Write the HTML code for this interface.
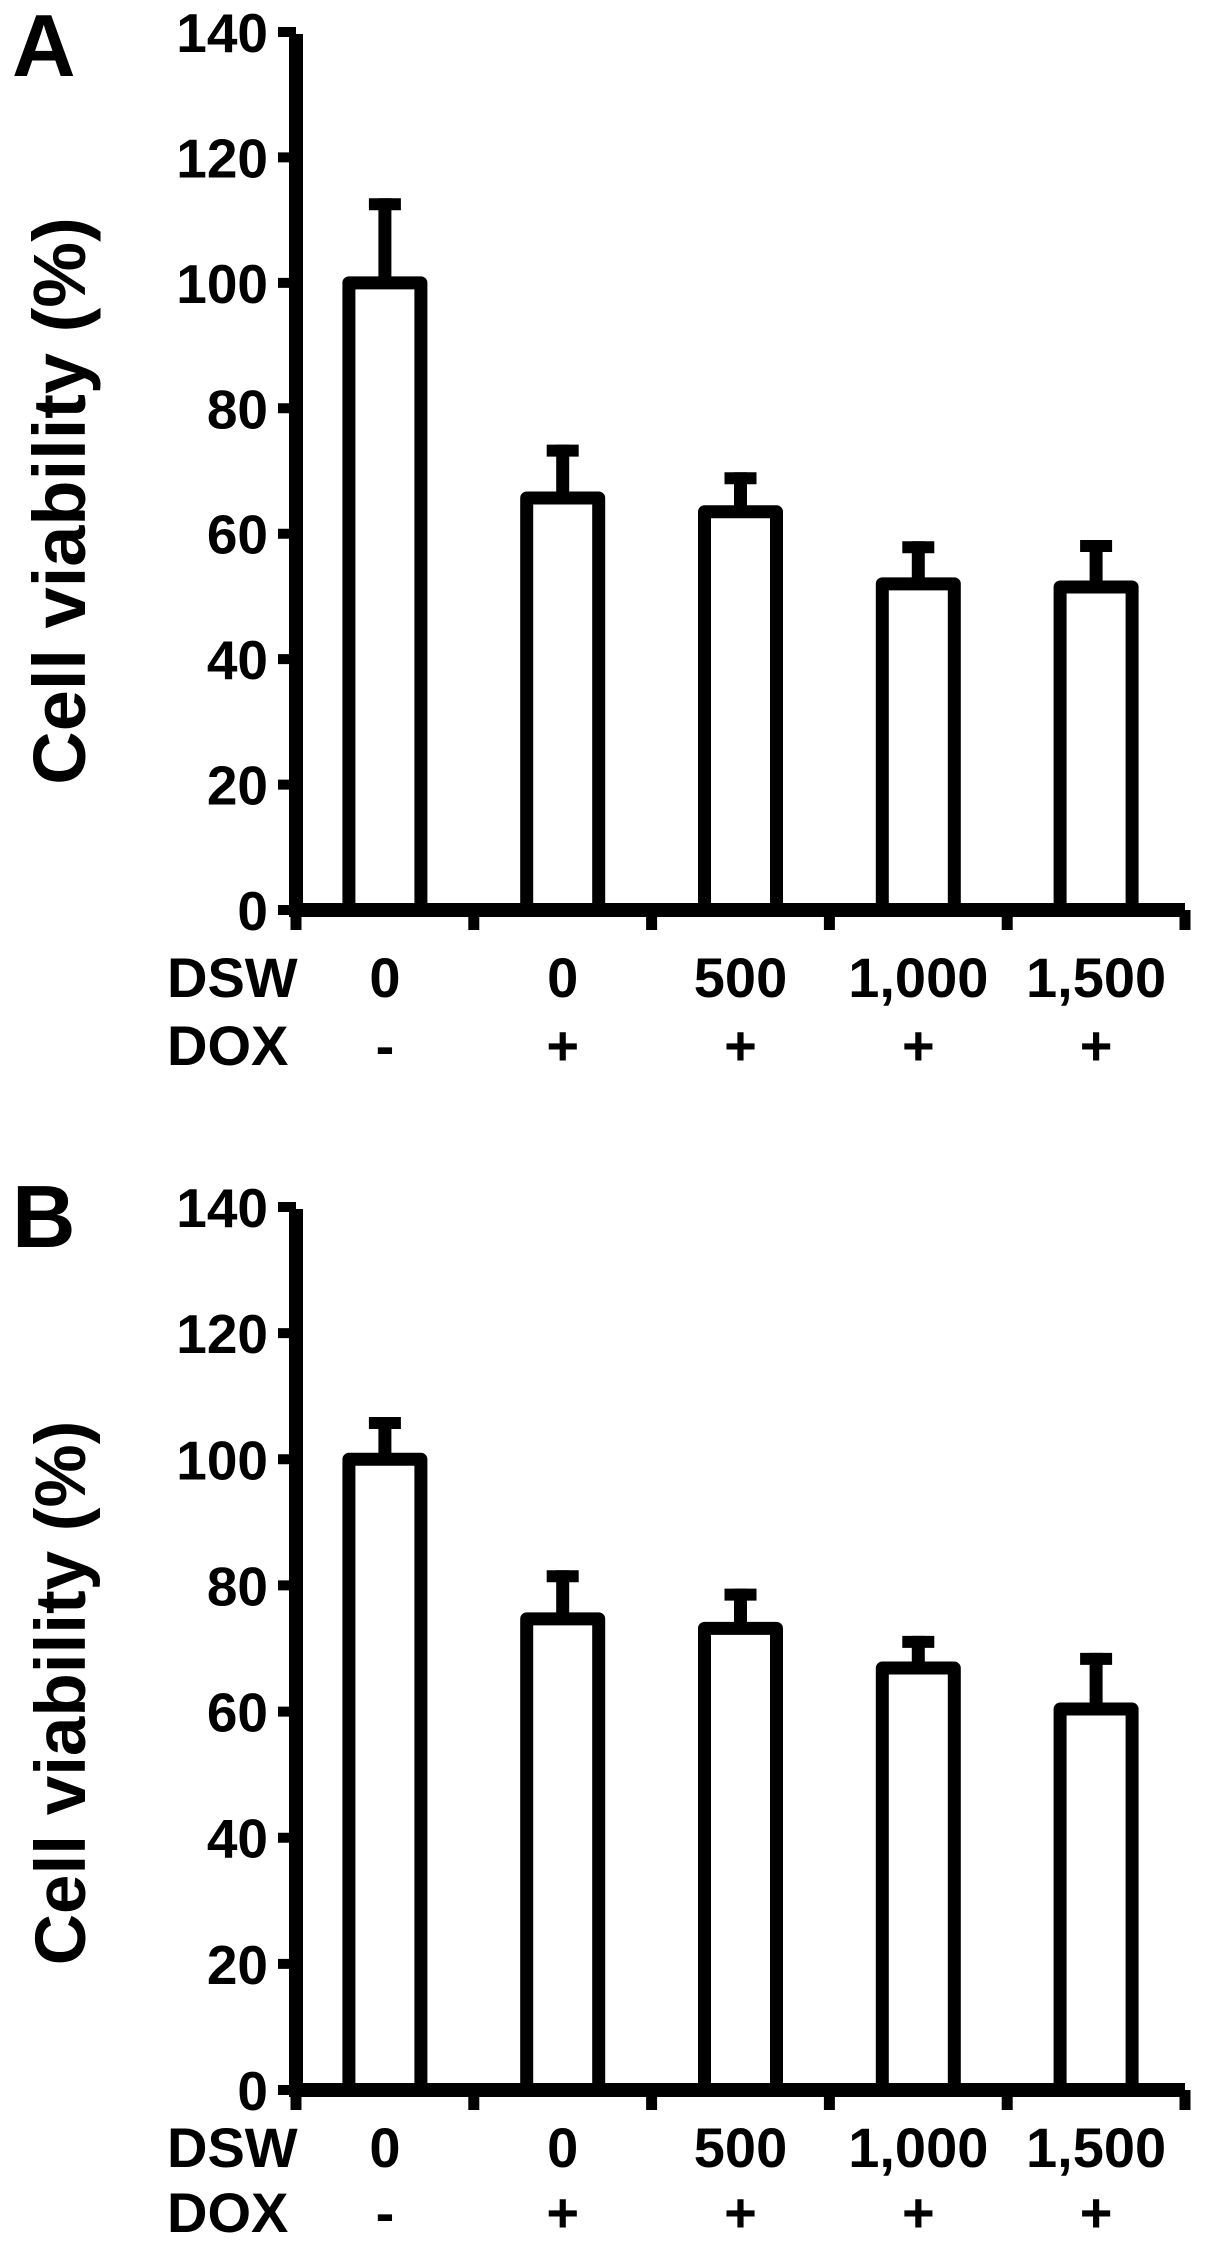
<!DOCTYPE html>
<html><head><meta charset="utf-8"><style>
html,body{margin:0;padding:0;background:#fff;}
svg{display:block;}
text{font-family:"Liberation Sans",Arial,sans-serif;font-weight:bold;fill:#000;}
</style></head>
<body>
<svg id="fig" width="1205" height="2245" viewBox="0 0 1205 2245"></svg>
<script>
const categories = ["g1","g2","g3","g4","g5"];
const dswLabels = ["0","0","500","1,000","1,500"];
const doxLabels = ["-","+","+","+","+"];
const yTicks = [0,20,40,60,80,100,120,140];
const meansA = [100, 65.7, 63.5, 52, 51.5];
const errTopA = [113.5, 74.2, 69.8, 58.8, 59];
const meansB = [100, 74.7, 73.2, 66.9, 60.4];
const errTopB = [106.7, 82.4, 79.5, 72, 69.3];

const NS = "http://www.w3.org/2000/svg";
const svg = document.getElementById('fig');
function mk(tag, attrs, parent){
  const e = document.createElementNS(NS, tag);
  for (const k in attrs) e.setAttribute(k, attrs[k]);
  (parent||svg).appendChild(e);
  return e;
}
function panel(letter, means, errs, y0, y140, dswY, doxY, letterY, titleSize, titleCenter){
  const g = mk('g', {});
  
  
  const xAxis = 296, xEnd = 1185;
  const band = (xEnd - xAxis) / categories.length;
  const yScale = v => y0 - (v / 140) * (y0 - y140);
  const xCenter = i => xAxis + band * (i + 0.5);

  const lt = mk('text', {x: 12, y: letterY, 'font-size': 88}, g);
  lt.textContent = letter;
  
  

  const yt = mk('text', {x: 0, y: 0, 'font-size': titleSize, 'text-anchor': 'middle',
    transform: `translate(85 ${titleCenter}) rotate(-90)`}, g);
  yt.textContent = "Cell viability (%)";
  
  

  categories.forEach((c, i) => {
    const cx = xCenter(i), top = yScale(means[i]), et = yScale(errs[i]);
    const eb = mk('line', {x1: cx, x2: cx, y1: top, y2: et, stroke: '#000', 'stroke-width': 13}, g);
    
    
    const cap = mk('line', {x1: cx - 16, x2: cx + 16, y1: et + 6, y2: et + 6, stroke: '#000', 'stroke-width': 12}, g);
    
    
    const r = mk('rect', {x: cx - 36, y: top, width: 72, height: y0 - top, fill: '#fff', stroke: '#000',
      'stroke-width': 13, 'stroke-linejoin': 'round'}, g);
    
    
    const d = mk('text', {x: cx, y: dswY, 'font-size': 56, 'text-anchor': 'middle'}, g);
    d.textContent = dswLabels[i];
    
    
    const o = mk('text', {x: cx, y: doxY, 'font-size': 56, 'text-anchor': 'middle'}, g);
    o.textContent = doxLabels[i];
    
    
  });

  const ya = mk('line', {x1: xAxis, x2: xAxis, y1: y140 + 2, y2: y0 + 7, stroke: '#000', 'stroke-width': 14}, g);
  
  
  const xa = mk('line', {x1: xAxis - 7, x2: xEnd, y1: y0, y2: y0, stroke: '#000', 'stroke-width': 14}, g);
  
  
  for (let k = 0; k <= categories.length; k++) {
    const tx = xAxis + band * k;
    const t = mk('line', {x1: tx, x2: tx, y1: y0, y2: y0 + 20, stroke: '#000', 'stroke-width': 11}, g);
    
    
  }
  yTicks.forEach(v => {
    const ty = yScale(v);
    const t = mk('line', {x1: xAxis - 18, x2: xAxis, y1: ty, y2: ty, stroke: '#000', 'stroke-width': 10}, g);
    
    
    const l = mk('text', {x: 268, y: ty + 20, 'font-size': 55, 'text-anchor': 'end'}, g);
    l.textContent = v;
    
    
  });

  const dl = mk('text', {x: 167, y: dswY, 'font-size': 56}, g);
  dl.textContent = "DSW";
  
  
  const ol = mk('text', {x: 167, y: doxY, 'font-size': 56}, g);
  ol.textContent = "DOX";
  
  
}
panel("A", meansA, errTopA, 910, 32, 997, 1065, 76, 74, 501);
panel("B", meansB, errTopB, 2090, 1207, 2167, 2232, 1247, 71, 1693);
</script>
</body></html>
